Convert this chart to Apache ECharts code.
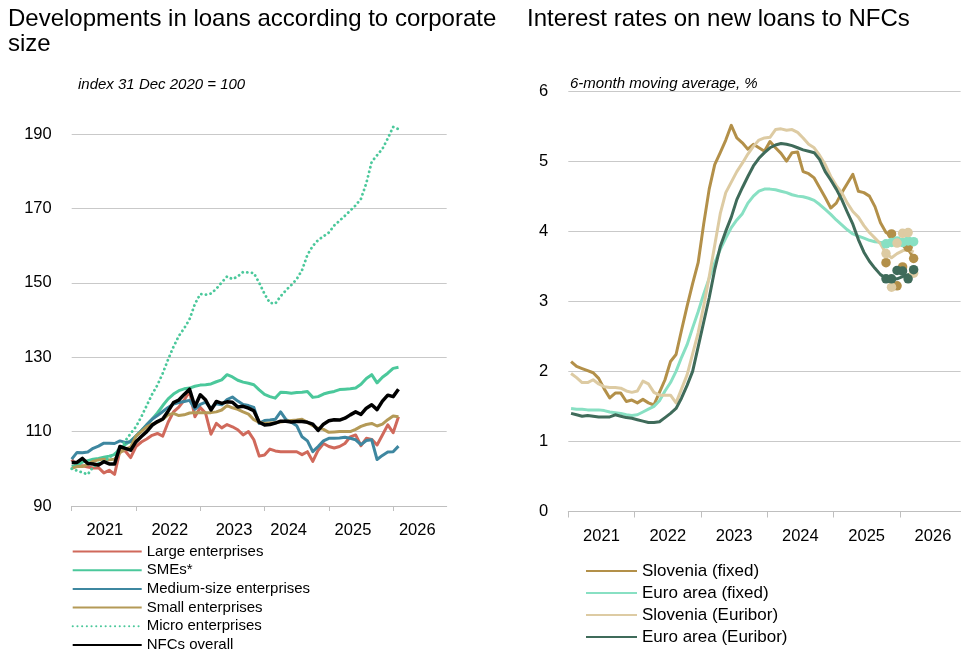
<!DOCTYPE html>
<html>
<head>
<meta charset="utf-8">
<script src="https://cdn.jsdelivr.net/npm/echarts@6/dist/echarts.min.js"></script>
<style>
  html, body { margin: 0; padding: 0; background: #ffffff; }
  #chart { width: 962px; height: 652px; }
</style>
</head>
<body>
<div id="chart"></div>
<script>
// ---- Left panel: loan stock index by corporate size (31 Dec 2020 = 100), monthly ----
const loanYears = ['2021', '2022', '2023', '2024', '2025', '2026'];

const largeEnterprises = [102.5, 100.8, 100.8, 100.5, 100.2, 100.3, 98.9, 99.6, 98.5, 104.9,
  104.8, 103.0, 106.0, 107.2, 108.0, 109.0, 109.5, 108.8, 112.5, 115.3,
  116.6, 118.5, 120.8, 114.0, 116.5, 114.9, 109.3, 112.2, 111.0, 111.9,
  111.3, 110.5, 109.1, 110.0, 107.8, 103.4, 103.7, 105.3, 104.8, 104.6,
  104.6, 104.6, 104.6, 103.8, 104.6, 102.0, 105.0, 106.8, 106.0, 105.6,
  106.0, 106.8, 108.6, 109.1, 106.2, 108.2, 107.9, 106.4, 109.1, 111.8,
  109.7, 114.0];

const smes = [100.6, 101.0, 101.8, 102.2, 102.6, 102.8, 103.1, 103.4, 103.8, 105.5,
  106.5, 107.5, 108.8, 110.3, 111.8, 113.3, 115.0, 117.0, 118.8, 120.1,
  121.0, 121.5, 121.7, 122.2, 122.5, 122.6, 122.8, 123.4, 123.9, 125.3,
  124.7, 123.8, 123.3, 123.0, 122.6, 121.2, 120.0, 119.4, 119.0, 120.6,
  120.5, 120.3, 120.5, 120.6, 120.8, 119.2, 119.4, 120.1, 120.5, 120.8,
  121.3, 121.4, 121.5, 121.7, 122.7, 124.3, 125.3, 123.1, 124.6, 125.7,
  127.0, 127.3];

const mediumEnterprises = [102.6, 104.4, 104.3, 104.5, 105.5, 106.1, 106.9, 106.9, 106.8, 107.5,
  107.1, 107.3, 108.8, 110.2, 111.8, 113.3, 114.3, 115.4, 116.5, 117.4,
  117.8, 118.1, 118.4, 116.0, 117.3, 117.9, 116.3, 117.5, 117.2, 118.6,
  119.3, 118.2, 117.3, 117.0, 116.5, 112.2, 113.0, 113.1, 113.3, 115.3,
  113.2, 112.5, 111.6, 108.6, 107.5, 104.6, 106.0, 107.5, 108.2, 108.2,
  108.3, 108.5, 108.2, 107.8, 106.5, 107.6, 107.8, 102.5, 103.6, 104.5,
  104.6, 106.1];

const smallEnterprises = [100.1, 100.6, 100.6, 101.2, 102.0, 102.4, 102.6, 102.4, 102.6, 104.3,
  105.3, 105.8, 108.8, 110.0, 111.3, 112.0, 112.5, 113.3, 114.5, 114.9,
  114.3, 114.5, 115.0, 115.1, 115.1, 115.1, 115.1, 115.3, 115.8, 117.0,
  116.4, 116.0, 115.3, 114.7, 113.2, 112.5, 112.2, 112.3, 112.4, 112.6,
  112.8, 113.0, 113.1, 113.3, 112.5, 111.6, 110.9, 110.6, 109.8, 109.9,
  110.0, 110.0, 110.0, 110.6, 111.4, 111.9, 112.2, 111.5, 112.0, 113.2,
  114.2, 114.0];

const microEnterprises = [100.0, 99.5, 99.0, 98.5, 100.5, 101.5, 102.0, 103.0, 104.0, 105.5,
  107.5, 109.5, 111.3, 114.0, 117.0, 120.0, 122.5, 125.7, 129.4, 132.8,
  135.7, 137.8, 140.2, 144.3, 147.0, 146.8, 147.1, 148.4, 150.1, 151.7,
  151.0, 151.7, 152.9, 152.8, 152.6, 150.0, 147.0, 144.6, 144.4, 146.4,
  148.0, 149.4, 151.0, 153.4, 157.5, 159.9, 161.5, 162.5, 163.5, 165.4,
  166.7, 168.0, 169.4, 170.8, 172.6, 176.8, 182.5, 184.3, 186.0, 188.8,
  191.9, 191.3];

const nfcsOverall = [101.7, 101.7, 102.8, 101.4, 101.3, 101.0, 101.9, 101.3, 101.3, 106.0,
  105.5, 105.0, 107.3, 108.7, 110.0, 111.7, 112.7, 113.4, 115.5, 117.8,
  118.5, 120.0, 121.4, 116.7, 119.9, 118.5, 115.8, 118.1, 117.6, 118.0,
  117.9, 116.6, 116.8, 116.3, 115.6, 112.5, 111.8, 111.9, 112.3, 112.8,
  112.8, 112.6, 112.7, 112.7, 112.5, 112.0, 110.3, 112.0, 112.9, 113.2,
  113.1, 113.6, 114.5, 115.3, 114.6, 116.3, 117.2, 115.9, 118.2, 119.8,
  119.4, 121.4];

// ---- Right panel: interest rates on new loans to NFCs (6-month moving average, %), from Jan 2021 ----
const rateYears = ['2021', '2022', '2023', '2024', '2025', '2026'];

const sloveniaFixed = [2.14, 2.07, 2.04, 2.01, 1.98, 1.90, 1.75, 1.62, 1.69, 1.69,
  1.57, 1.59, 1.55, 1.60, 1.55, 1.52, 1.70, 1.88, 2.14, 2.24,
  2.59, 2.93, 3.25, 3.55, 4.10, 4.60, 4.95, 5.12, 5.30, 5.51,
  5.33, 5.26, 5.17, 5.24, 5.19, 5.14, 5.28, 5.19, 5.11, 5.00,
  5.12, 5.13, 4.85, 4.82, 4.76, 4.62, 4.48, 4.33, 4.40, 4.55,
  4.68, 4.81, 4.57, 4.55, 4.50, 4.35, 4.12, 3.98, 3.93, 3.85,
  3.80, 3.74, 3.62];

const euroAreaFixed = [1.47, 1.46, 1.46, 1.45, 1.45, 1.45, 1.44, 1.42, 1.41, 1.40,
  1.38, 1.37, 1.38, 1.42, 1.46, 1.50, 1.58, 1.72, 1.84, 2.00,
  2.20, 2.38, 2.62, 2.85, 3.10, 3.33, 3.55, 3.74, 3.90, 4.05,
  4.16, 4.25, 4.40, 4.50, 4.57, 4.60, 4.60, 4.59, 4.57, 4.55,
  4.52, 4.50, 4.49, 4.47, 4.44, 4.38, 4.31, 4.24, 4.16, 4.09,
  4.02, 3.96, 3.93, 3.90, 3.87, 3.85, 3.84, 3.83, 3.83, 3.84,
  3.84, 3.85, 3.85];

const sloveniaEuribor = [1.97, 1.91, 1.84, 1.84, 1.88, 1.82, 1.78, 1.77, 1.77, 1.76,
  1.72, 1.70, 1.72, 1.86, 1.82, 1.70, 1.66, 1.66, 1.66, 1.55,
  1.75, 1.95, 2.25, 2.55, 2.93, 3.35, 3.80, 4.25, 4.55, 4.70,
  4.85, 4.97, 5.10, 5.21, 5.30, 5.33, 5.34, 5.45, 5.46, 5.44,
  5.45, 5.41, 5.33, 5.24, 5.19, 5.08, 4.95, 4.78, 4.65, 4.55,
  4.40, 4.28, 4.20, 4.08, 3.98, 3.90, 3.82, 3.68, 3.62, 3.68,
  3.72, 3.74, 3.70];

const euroAreaEuribor = [1.40, 1.38, 1.36, 1.37, 1.36, 1.35, 1.35, 1.35, 1.38, 1.36,
  1.34, 1.33, 1.31, 1.29, 1.27, 1.27, 1.28, 1.34, 1.40, 1.47,
  1.62, 1.80, 2.00, 2.35, 2.70, 3.05, 3.45, 3.78, 4.00, 4.20,
  4.45, 4.62, 4.78, 4.93, 5.04, 5.12, 5.19, 5.23, 5.25, 5.24,
  5.22, 5.19, 5.16, 5.14, 5.12, 5.02, 4.85, 4.73, 4.60, 4.45,
  4.27, 4.10, 3.88, 3.70, 3.57, 3.47, 3.38, 3.33, 3.31, 3.32,
  3.35, 3.38, 3.40];

// Single-month rates for the latest six months (months 57..62 of the series)
const latestMonthStart = 57;
const sloveniaFixedMonthly = [3.55, 3.96, 3.22, 3.49, 3.77, 3.61];
const euroAreaFixedMonthly = [3.82, 3.84, 3.86, 3.84, 3.86, 3.85];
const sloveniaEuriborMonthly = [3.68, 3.20, 3.83, 3.97, 3.98, 3.40];
const euroAreaEuriborMonthly = [3.32, 3.32, 3.44, 3.43, 3.32, 3.45];

// ---- helpers ----
const FONT = '"Liberation Sans", Arial, sans-serif';
const GRID_GREY = '#C9C9C9';
const AXIS_GREY = '#BFBFBF';

// months since the start of the axis -> [x, y] pairs
function toPoints(values, startMonth) {
  return values.map((v, i) => [startMonth + i, v]);
}

function loanLine(name, values, color, extra) {
  return Object.assign({
    name: name,
    type: 'line',
    xAxisIndex: 0,
    yAxisIndex: 0,
    data: toPoints(values, 0),
    showSymbol: false,
    symbol: 'none',
    clip: false,
    lineStyle: { color: color, width: 3, join: 'round' },
    itemStyle: { color: color }
  }, extra || {});
}

function rateLine(name, values, color) {
  return {
    name: name,
    type: 'line',
    xAxisIndex: 1,
    yAxisIndex: 1,
    data: toPoints(values, 0.5),
    showSymbol: false,
    symbol: 'none',
    lineStyle: { color: color, width: 3, join: 'round' },
    itemStyle: { color: color }
  };
}

function rateDots(name, values, color) {
  return {
    name: name,
    type: 'scatter',
    xAxisIndex: 1,
    yAxisIndex: 1,
    data: toPoints(values, latestMonthStart + 0.5),
    symbol: 'circle',
    symbolSize: 9.5,
    itemStyle: { color: color, opacity: 1 },
    z: 5
  };
}

const COLORS = {
  large: '#D0695B',
  smes: '#4BC89B',
  medium: '#3E87A0',
  small: '#B49A57',
  micro: '#4BC89B',
  overall: '#000000',
  sloFixed: '#B39049',
  euroFixed: '#88E0C3',
  sloEuribor: '#DDCBA3',
  euroEuribor: '#3F6B5A'
};

const loanNames = ['Large enterprises', 'SMEs*', 'Medium-size enterprises',
  'Small enterprises', 'Micro enterprises', 'NFCs overall'];
const rateNames = ['Slovenia (fixed)', 'Euro area (fixed)', 'Slovenia (Euribor)', 'Euro area (Euribor)'];

const chart = echarts.init(document.getElementById('chart'), null, { renderer: 'canvas' });

const option = {
  animation: false,
  backgroundColor: '#ffffff',
  textStyle: { fontFamily: FONT },
  title: [
    {
      text: 'Developments in loans according to corporate\nsize',
      left: 8, top: 7, padding: 0,
      textStyle: { fontFamily: FONT, fontSize: 24, fontWeight: 'normal', color: '#000', lineHeight: 25 }
    },
    {
      text: 'Interest rates on new loans to NFCs',
      left: 527, top: 7, padding: 0,
      textStyle: { fontFamily: FONT, fontSize: 24, fontWeight: 'normal', color: '#000', lineHeight: 25 }
    },
    {
      text: 'index 31 Dec 2020 = 100',
      left: 78, top: 76, padding: 0,
      textStyle: { fontFamily: FONT, fontSize: 15, fontStyle: 'italic', fontWeight: 'normal', color: '#000', lineHeight: 18 }
    },
    {
      text: '6-month moving average, %',
      left: 570, top: 75, padding: 0,
      textStyle: { fontFamily: FONT, fontSize: 15, fontStyle: 'italic', fontWeight: 'normal', color: '#000', lineHeight: 18 }
    }
  ],
  legend: [
    {
      data: loanNames,
      orient: 'vertical',
      left: 71.7, top: 544, height: 130, padding: 0,
      itemWidth: 69, itemHeight: 12, itemGap: 3.7,
      selectedMode: false,
      itemStyle: { opacity: 0 },
      textStyle: { fontFamily: FONT, fontSize: 15, color: '#000' }
    },
    {
      data: rateNames,
      orient: 'vertical',
      left: 585, top: 562.5, height: 120, padding: 0,
      itemWidth: 51, itemHeight: 14, itemGap: 5,
      selectedMode: false,
      itemStyle: { opacity: 0 },
      textStyle: { fontFamily: FONT, fontSize: 17, color: '#000' }
    }
  ],
  grid: [
    { left: 71.7, right: 515.3, top: 134, bottom: 146, containLabel: false },
    { left: 568.3, right: 1.4, top: 91, bottom: 140.5, containLabel: false }
  ],
  xAxis: [
    {
      type: 'value', gridIndex: 0, min: 0, max: 70,
      axisLine: { show: true, lineStyle: { color: AXIS_GREY, width: 1 } },
      axisTick: { show: true, length: 5, lineStyle: { color: AXIS_GREY }, customValues: [0, 12, 24, 36, 48, 60] },
      axisLabel: {
        customValues: [6.2, 18.3, 30.3, 40.5, 52.5, 64.5],
        formatter: (v) => loanYears[Math.floor(v / 12)],
        fontFamily: FONT, fontSize: 16.5, color: '#000', margin: 16
      },
      splitLine: { show: false }
    },
    {
      type: 'value', gridIndex: 1, min: 0, max: 71,
      axisLine: { show: true, lineStyle: { color: AXIS_GREY, width: 1 } },
      axisTick: { show: true, length: 6, lineStyle: { color: AXIS_GREY }, customValues: [0, 12, 24, 36, 48, 60] },
      axisLabel: {
        customValues: [6, 18, 30, 42, 54, 66],
        formatter: (v) => rateYears[Math.floor(v / 12)],
        fontFamily: FONT, fontSize: 16.5, color: '#000', margin: 16
      },
      splitLine: { show: false }
    }
  ],
  yAxis: [
    {
      type: 'value', gridIndex: 0, min: 90, max: 190, interval: 20,
      axisLine: { show: false }, axisTick: { show: false },
      axisLabel: { fontFamily: FONT, fontSize: 16.5, color: '#000', margin: 20 },
      splitLine: { show: true, lineStyle: { color: GRID_GREY, width: 1 } }
    },
    {
      type: 'value', gridIndex: 1, min: 0, max: 6, interval: 1,
      axisLine: { show: false }, axisTick: { show: false },
      axisLabel: { fontFamily: FONT, fontSize: 16.5, color: '#000', margin: 20 },
      splitLine: { show: true, lineStyle: { color: GRID_GREY, width: 1 } }
    }
  ],
  series: [
    loanLine(loanNames[0], largeEnterprises, COLORS.large),
    loanLine(loanNames[1], smes, COLORS.smes),
    loanLine(loanNames[2], mediumEnterprises, COLORS.medium),
    loanLine(loanNames[3], smallEnterprises, COLORS.small),
    loanLine(loanNames[4], microEnterprises, COLORS.micro, {
      lineStyle: { color: COLORS.micro, width: 2.8, type: [0.1, 4.6], cap: 'round' }
    }),
    loanLine(loanNames[5], nfcsOverall, COLORS.overall, {
      lineStyle: { color: COLORS.overall, width: 3.5, join: 'round' }, z: 3
    }),

    rateLine(rateNames[0], sloveniaFixed, COLORS.sloFixed),
    rateLine(rateNames[1], euroAreaFixed, COLORS.euroFixed),
    rateLine(rateNames[2], sloveniaEuribor, COLORS.sloEuribor),
    rateLine(rateNames[3], euroAreaEuribor, COLORS.euroEuribor),

    rateDots('Slovenia (fixed), monthly', sloveniaFixedMonthly, COLORS.sloFixed),
    rateDots('Euro area (fixed), monthly', euroAreaFixedMonthly, COLORS.euroFixed),
    rateDots('Slovenia (Euribor), monthly', sloveniaEuriborMonthly, COLORS.sloEuribor),
    rateDots('Euro area (Euribor), monthly', euroAreaEuriborMonthly, COLORS.euroEuribor)
  ]
};

chart.setOption(option);
</script>
</body>
</html>
